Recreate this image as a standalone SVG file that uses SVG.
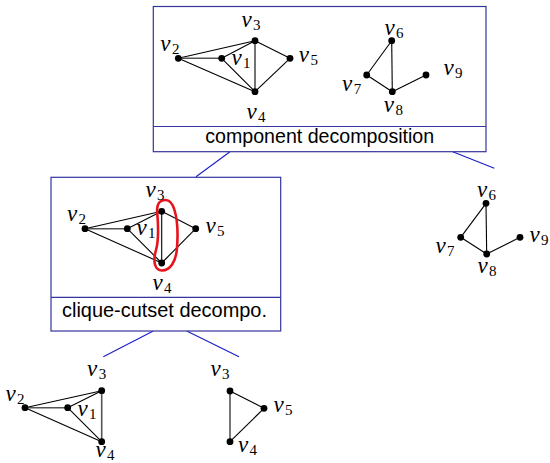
<svg xmlns="http://www.w3.org/2000/svg" width="550" height="463" viewBox="0 0 550 463">
<style>
.box{fill:#fff;stroke:#34349e;stroke-width:1.2}
.div{stroke:#34349e;stroke-width:1.2}
.con{stroke:#1c1cc4;stroke-width:1.1;fill:none}
.e{stroke:#000;stroke-width:1.1;fill:none}
.eg{stroke:#555;stroke-width:1.6;fill:none}
.n{fill:#000}
.lb{font-family:"Liberation Serif","Times New Roman",serif;font-style:italic;font-size:23px;fill:#000;text-anchor:middle}
.sb{font-style:normal;font-size:15px}
.cap{font-family:"Liberation Sans",Arial,sans-serif;font-size:19.5px;fill:#000;text-anchor:middle}
</style>
<g id="connectors">
<line class="con" x1="230" y1="151.7" x2="196" y2="176.7"/>
<line class="con" x1="452.7" y1="151.7" x2="494.3" y2="168.3"/>
<line class="con" x1="153.3" y1="331" x2="103.3" y2="356.7"/>
<line class="con" x1="186.7" y1="331" x2="239" y2="356.7"/>
</g>
<g id="box-component">
<rect class="box" x="153.3" y="6.5" width="332.7" height="145.2"/>
<line class="div" x1="153.3" y1="126.5" x2="486" y2="126.5"/>
<text class="cap" x="319.7" y="143" textLength="229" lengthAdjust="spacingAndGlyphs">component decomposition</text>
<g class="e">
<line x1="178.3" y1="58.3" x2="255" y2="40.7"/>
<line x1="178.3" y1="58.3" x2="255" y2="91.7"/>
<line x1="221.7" y1="58.3" x2="255" y2="40.7"/>
<line x1="221.7" y1="58.3" x2="255" y2="91.7"/>
<line x1="255" y1="40.7" x2="255" y2="91.7"/>
<line x1="255" y1="40.7" x2="290" y2="58.3"/>
<line x1="290" y1="58.3" x2="255" y2="91.7"/>
<line x1="391.7" y1="40.7" x2="366.7" y2="75"/>
<line x1="391.7" y1="40.7" x2="392.3" y2="91.7"/>
<line x1="366.7" y1="75" x2="392.3" y2="91.7"/>
<line x1="392.3" y1="91.7" x2="426" y2="75"/>
</g>
<line class="eg" x1="178.3" y1="58.3" x2="221.7" y2="58.3"/>
<g class="n">
<circle cx="178.3" cy="58.3" r="3.4"/><circle cx="221.7" cy="58.3" r="3.4"/><circle cx="255" cy="40.7" r="3.4"/><circle cx="290" cy="58.3" r="3.4"/><circle cx="255" cy="91.7" r="3.4"/>
<circle cx="391.7" cy="40.7" r="3.4"/><circle cx="366.7" cy="75" r="3.4"/><circle cx="392.3" cy="91.7" r="3.4"/><circle cx="426" cy="75" r="3.4"/>
</g>
<text class="lb" x="251" y="26.5">v<tspan class="sb" dy="3" dx="1.5">3</tspan></text>
<text class="lb" x="169.8" y="51">v<tspan class="sb" dy="3" dx="1.5">2</tspan></text>
<text class="lb" x="241" y="64.5">v<tspan class="sb" dy="3" dx="1.5">1</tspan></text>
<text class="lb" x="308.3" y="62">v<tspan class="sb" dy="3" dx="1.5">5</tspan></text>
<text class="lb" x="256" y="118.5">v<tspan class="sb" dy="3" dx="1.5">4</tspan></text>
<text class="lb" x="394" y="35">v<tspan class="sb" dy="3" dx="1.5">6</tspan></text>
<text class="lb" x="351.7" y="91">v<tspan class="sb" dy="3" dx="1.5">7</tspan></text>
<text class="lb" x="393.3" y="111.5">v<tspan class="sb" dy="3" dx="1.5">8</tspan></text>
<text class="lb" x="453" y="75">v<tspan class="sb" dy="3" dx="1.5">9</tspan></text>
</g>
<g id="box-clique">
<rect class="box" x="51" y="177.3" width="229.7" height="153.7"/>
<line class="div" x1="51" y1="297.3" x2="280.7" y2="297.3"/>
<text class="cap" x="164.5" y="317.3" textLength="205" lengthAdjust="spacingAndGlyphs">clique-cutset decompo.</text>
<g class="e">
<line x1="85" y1="228.7" x2="161.7" y2="211.3"/>
<line x1="85" y1="228.7" x2="161.7" y2="263"/>
<line x1="127.3" y1="228.7" x2="161.7" y2="211.3"/>
<line x1="127.3" y1="228.7" x2="161.7" y2="263"/>
<line x1="161.7" y1="211.3" x2="161.7" y2="263"/>
<line x1="161.7" y1="211.3" x2="195.7" y2="228.7"/>
<line x1="195.7" y1="228.7" x2="161.7" y2="263"/>
</g>
<line class="eg" x1="85" y1="228.7" x2="127.3" y2="228.7"/>
<g class="n">
<circle cx="85" cy="228.7" r="3.4"/><circle cx="127.3" cy="228.7" r="3.4"/><circle cx="161.7" cy="211.3" r="3.4"/><circle cx="195.7" cy="228.7" r="3.4"/><circle cx="161.7" cy="263" r="3.4"/>
</g>
<path d="M165.5,200 C159,200 156.5,205 157.2,212 C158,222 159.5,238 156,250 C152.5,262 155,270.5 162,270.5 C170,270.5 176,262 177,248 C178,235 177.5,220 174.5,210 C172.5,203 170,200 165.5,200 Z" fill="none" stroke="#e8141c" stroke-width="2.6"/>
<text class="lb" x="155" y="196.5">v<tspan class="sb" dy="3" dx="1.5">3</tspan></text>
<text class="lb" x="76.5" y="220.5">v<tspan class="sb" dy="3" dx="1.5">2</tspan></text>
<text class="lb" x="146" y="234.5">v<tspan class="sb" dy="3" dx="1.5">1</tspan></text>
<text class="lb" x="215" y="233">v<tspan class="sb" dy="3" dx="1.5">5</tspan></text>
<text class="lb" x="162" y="290">v<tspan class="sb" dy="3" dx="1.5">4</tspan></text>
</g>
<g id="component-2">
<g class="e">
<line x1="486" y1="203.3" x2="460.7" y2="237.3"/>
<line x1="486" y1="203.3" x2="486.7" y2="254"/>
<line x1="460.7" y1="237.3" x2="486.7" y2="254"/>
<line x1="486.7" y1="254" x2="520" y2="237.3"/>
</g>
<g class="n">
<circle cx="486" cy="203.3" r="3.4"/><circle cx="460.7" cy="237.3" r="3.4"/><circle cx="486.7" cy="254" r="3.4"/><circle cx="520" cy="237.3" r="3.4"/>
</g>
<text class="lb" x="486.5" y="197">v<tspan class="sb" dy="3" dx="1.5">6</tspan></text>
<text class="lb" x="445" y="252.5">v<tspan class="sb" dy="3" dx="1.5">7</tspan></text>
<text class="lb" x="487" y="272.5">v<tspan class="sb" dy="3" dx="1.5">8</tspan></text>
<text class="lb" x="539" y="241.5">v<tspan class="sb" dy="3" dx="1.5">9</tspan></text>
</g>
<g id="atom-1">
<g class="e">
<line x1="25" y1="407.7" x2="101.7" y2="390.7"/>
<line x1="25" y1="407.7" x2="101.7" y2="441.7"/>
<line x1="67.7" y1="407.7" x2="101.7" y2="390.7"/>
<line x1="67.7" y1="407.7" x2="101.7" y2="441.7"/>
</g>
<line class="eg" x1="25" y1="407.7" x2="67.7" y2="407.7"/>
<line class="eg" x1="101.7" y1="390.7" x2="101.7" y2="441.7"/>
<g class="n">
<circle cx="25" cy="407.7" r="3.4"/><circle cx="67.7" cy="407.7" r="3.4"/><circle cx="101.7" cy="390.7" r="3.4"/><circle cx="101.7" cy="441.7" r="3.4"/>
</g>
<text class="lb" x="96.7" y="376">v<tspan class="sb" dy="3" dx="1.5">3</tspan></text>
<text class="lb" x="15" y="401">v<tspan class="sb" dy="3" dx="1.5">2</tspan></text>
<text class="lb" x="87" y="416">v<tspan class="sb" dy="3" dx="1.5">1</tspan></text>
<text class="lb" x="105" y="457">v<tspan class="sb" dy="3" dx="1.5">4</tspan></text>
</g>
<g id="atom-2">
<g class="e">
<line x1="230" y1="391" x2="264" y2="408.3"/>
<line x1="264" y1="408.3" x2="230" y2="441.7"/>
</g>
<line class="eg" x1="230" y1="391" x2="230" y2="441.7"/>
<g class="n">
<circle cx="230" cy="391" r="3.4"/><circle cx="264" cy="408.3" r="3.4"/><circle cx="230" cy="441.7" r="3.4"/>
</g>
<text class="lb" x="220" y="376">v<tspan class="sb" dy="3" dx="1.5">3</tspan></text>
<text class="lb" x="283" y="411.5">v<tspan class="sb" dy="3" dx="1.5">5</tspan></text>
<text class="lb" x="247.5" y="451.5">v<tspan class="sb" dy="3" dx="1.5">4</tspan></text>
</g>
</svg>
